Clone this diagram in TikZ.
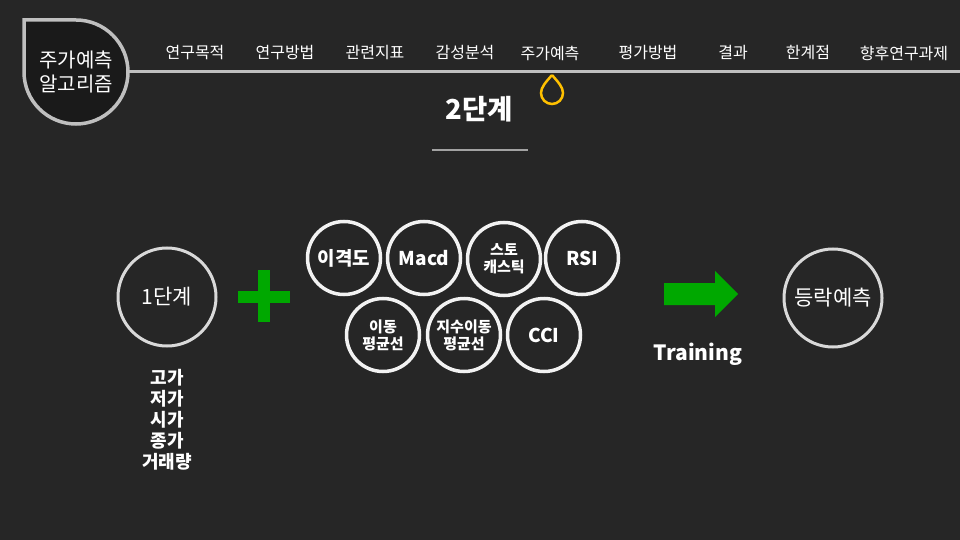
\documentclass[tikz,border=0pt]{standalone}
\usepackage{fontspec}
\setmainfont{Noto Sans CJK KR}
\definecolor{bg}{HTML}{262626}
\definecolor{darkfill}{HTML}{1A1A1A}
\definecolor{linegray}{HTML}{BFBFBF}
\definecolor{biggray}{HTML}{D9D9D9}
\definecolor{circw}{HTML}{F2F2F2}
\definecolor{gold}{HTML}{FFC000}
\definecolor{grn}{HTML}{00A800}
\begin{document}
\begin{tikzpicture}[x=1pt,y=-1pt,
  menu/.style={text=white,font=\fontsize{16}{18}\selectfont,inner sep=0},
  ind/.style={circle,draw=circw,line width=3.5,minimum size=73,inner sep=0,text=white,align=center,font=\bfseries\fontsize{19}{21}\selectfont},
  indsmall/.style={ind,font=\bfseries\fontsize{15}{17}\selectfont},
  big/.style={circle,draw=biggray,line width=3,minimum size=98,inner sep=0,text=white,font=\fontsize{21}{23}\selectfont}]
\fill[bg] (0,0) rectangle (960,540);
\useasboundingbox (0,0) rectangle (960,540);
% header line
\coordinate (hl) at (128,71.5);
\coordinate (hr) at (960,71.5);
\draw[linegray,line width=3] (hl) -- (hr);
% title drop
\filldraw[fill=darkfill,draw=linegray,line width=3.5] (24,20) -- (76,20) arc[start angle=-90,end angle=180,radius=52] -- cycle;
\node[text=white,align=center,font=\fontsize{20}{24}\selectfont] (title) at (76,72) {주가예측\\알고리즘};
% menu
\node[menu] (m1) at (195,53) {연구목적};
\node[menu] (m2) at (285,53) {연구방법};
\node[menu] (m3) at (375,53) {관련지표};
\node[menu] (m4) at (465,53) {감성분석};
\node[menu] (m5) at (550,53) {주가예측};
\node[menu] (m6) at (648,53) {평가방법};
\node[menu] (m7) at (733,53) {결과};
\node[menu] (m8) at (808,53) {한계점};
\node[menu] (m9) at (904,53) {향후연구과제};
% gold marker
\draw[gold,line width=2.5] (552,75) .. controls (546,82) and (541,87) .. (541,93) arc[start angle=180,end angle=0,radius=11] .. controls (563,87) and (558,82) .. (552,75);
% heading
\node[text=white,font=\bfseries\fontsize{27.5}{30}\selectfont] (head) at (479,109) {2단계};
\coordinate (ul) at (432,150);
\coordinate (ur) at (528,150);
\draw[linegray!85!black,line width=1.5] (ul) -- (ur);
% stage 1
\node[big] (s1) at (167,297) {1단계};
\node[text=white,align=center,font=\bfseries\fontsize{18}{21}\selectfont] (list) at (167,420) {고가\\저가\\시가\\종가\\거래량};
% plus
\fill[grn] (258,270) rectangle (270,322);
\fill[grn] (238,291) rectangle (290,303);
% indicators
\node[ind] (c1) at (344,258) {이격도};
\node[ind] (c2) at (424,258) {Macd};
\node[indsmall] (c3) at (504,259) {스토\\캐스틱};
\node[ind] (c4) at (582,258) {RSI};
\node[indsmall] (c5) at (383,335) {이동\\평균선};
\node[indsmall] (c6) at (464,335) {지수이동\\평균선};
\node[ind] (c7) at (544,335) {CCI};
% arrow
\fill[grn] (664,283) -- (715,283) -- (715,271) -- (738,294) -- (715,317) -- (715,305) -- (664,305) -- cycle;
\node[text=white,font=\bfseries\fontsize{21}{24}\selectfont] (train) at (698,354) {Training};
% result
\node[big] (res) at (833,298) {등락예측};
\end{tikzpicture}
\end{document}
